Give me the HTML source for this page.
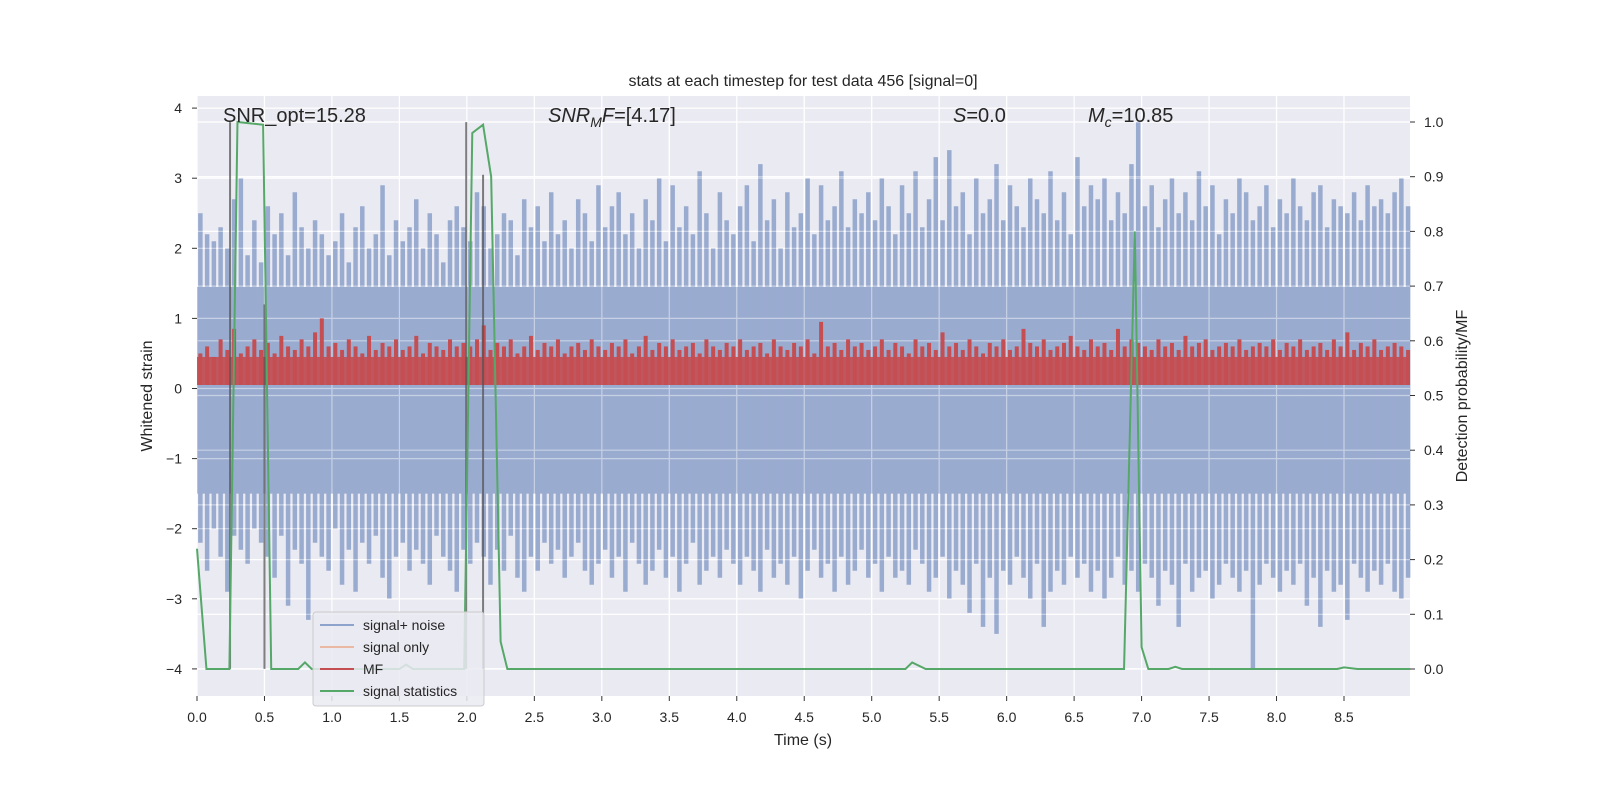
<!DOCTYPE html>
<html><head><meta charset="utf-8"><style>
body{margin:0;background:#fff;}
svg text{font-family:"Liberation Sans",sans-serif;fill:#262626;}
</style></head><body>
<svg id="c" width="1600" height="800" xmlns="http://www.w3.org/2000/svg">
<rect width="1600" height="800" fill="#fff"/>
<rect x="197" y="96" width="1213" height="600" fill="#eaeaf2"/>
<g id="grid"></g><g id="blue"></g><g id="grid2" opacity="0.45"></g><g id="red"></g><g id="vlines"></g><g id="green"></g><g id="ticks"></g>
<text x="803" y="86" font-size="16" text-anchor="middle">stats at each timestep for test data 456 [signal=0]</text>
<text x="223" y="122" font-size="20">SNR_opt=15.28</text>
<text x="548" y="122" font-size="20"><tspan font-style="italic">SNR</tspan><tspan font-style="italic" font-size="14" dy="5">M</tspan><tspan font-style="italic" dy="-5">F</tspan>=[4.17]</text>
<text x="953" y="122" font-size="20"><tspan font-style="italic">S</tspan>=0.0</text>
<text x="1088" y="122" font-size="20"><tspan font-style="italic">M</tspan><tspan font-style="italic" font-size="14" dy="5">c</tspan><tspan dy="-5">=10.85</tspan></text>
<text x="803" y="745" font-size="16" text-anchor="middle">Time (s)</text>
<text transform="translate(152,396) rotate(-90)" font-size="16" text-anchor="middle">Whitened strain</text>
<text transform="translate(1467,396) rotate(-90)" font-size="16" text-anchor="middle">Detection probability/MF</text>
<g>
<rect x="313" y="612" width="171" height="94" rx="3" fill="#eaeaf2" fill-opacity="0.85" stroke="#ccc"/>
<line x1="320" y1="625" x2="354" y2="625" stroke="#8ea3cb" stroke-width="2"/><text x="363" y="630" font-size="14">signal+ noise</text>
<line x1="320" y1="647" x2="354" y2="647" stroke="#ebb8a4" stroke-width="2"/><text x="363" y="652" font-size="14">signal only</text>
<line x1="320" y1="669" x2="354" y2="669" stroke="#c44e52" stroke-width="2"/><text x="363" y="674" font-size="14">MF</text>
<line x1="320" y1="691" x2="354" y2="691" stroke="#55a868" stroke-width="2"/><text x="363" y="696" font-size="14">signal statistics</text>
</g>
</svg>
<script>
const xTicks=[0,0.5,1,1.5,2,2.5,3,3.5,4,4.5,5,5.5,6,6.5,7,7.5,8,8.5];
const yTicks=[-4,-3,-2,-1,0,1,2,3,4];
const y2Ticks=[0,0.1,0.2,0.3,0.4,0.5,0.6,0.7,0.8,0.9,1.0];
const noiseHi=[2.5,2.2,2.1,2.3,2.0,2.7,3.0,1.9,2.4,1.8,2.6,2.2,2.5,1.9,2.8,2.3,2.0,2.4,2.2,1.9,
2.1,2.5,1.8,2.3,2.6,2.0,2.2,2.9,1.9,2.4,2.1,2.3,2.7,2.0,2.5,2.2,1.8,2.4,2.6,2.3,
2.1,2.8,2.6,2.0,2.2,2.5,2.4,1.9,2.7,2.3,2.6,2.1,2.8,2.2,2.4,2.0,2.7,2.5,2.1,2.9,
2.3,2.6,2.8,2.2,2.5,2.0,2.7,2.4,3.0,2.1,2.9,2.3,2.6,2.2,3.1,2.5,2.0,2.8,2.4,2.2,
2.6,2.9,2.1,3.2,2.4,2.7,2.0,2.8,2.3,2.5,3.0,2.2,2.9,2.4,2.6,3.1,2.3,2.7,2.5,2.8,
2.4,3.0,2.6,2.2,2.9,2.5,3.1,2.3,2.7,3.3,2.4,3.4,2.6,2.8,2.2,3.0,2.5,2.7,3.2,2.4,
2.9,2.6,2.3,3.0,2.7,2.5,3.1,2.4,2.8,2.2,3.3,2.6,2.9,2.7,3.0,2.4,2.8,2.5,3.2,3.8,
2.6,2.9,2.3,2.7,3.0,2.5,2.8,2.4,3.1,2.6,2.9,2.2,2.7,2.5,3.0,2.8,2.4,2.6,2.9,2.3,
2.7,2.5,3.0,2.6,2.4,2.8,2.9,2.3,2.7,2.6,2.5,2.8,2.4,2.9,2.6,2.7,2.5,2.8,3.0,2.6];
const noiseLo=[-2.2,-2.6,-2.0,-2.4,-2.9,-2.1,-2.3,-2.5,-2.0,-2.2,-2.4,-2.7,-2.1,-3.1,-2.3,-2.5,-3.3,-2.2,-2.4,-2.6,
-2.0,-2.8,-2.3,-2.9,-2.2,-2.5,-2.1,-2.7,-3.0,-2.4,-2.2,-2.6,-2.3,-2.5,-2.8,-2.1,-2.4,-2.6,-2.9,-2.3,
-2.5,-2.2,-2.4,-2.8,-2.3,-2.6,-2.1,-2.7,-2.9,-2.4,-2.6,-2.2,-2.5,-2.3,-2.7,-2.4,-2.2,-2.6,-2.8,-2.5,
-2.3,-2.7,-2.4,-2.9,-2.2,-2.5,-2.8,-2.6,-2.3,-2.7,-2.4,-2.9,-2.5,-2.2,-2.8,-2.6,-2.4,-2.7,-2.3,-2.5,
-2.8,-2.4,-2.6,-2.9,-2.3,-2.7,-2.5,-2.8,-2.4,-3.0,-2.6,-2.3,-2.7,-2.5,-2.9,-2.4,-2.8,-2.6,-2.3,-2.7,
-2.5,-2.9,-2.4,-2.7,-2.6,-2.8,-2.3,-2.5,-2.9,-2.7,-2.4,-3.0,-2.6,-2.8,-3.2,-2.5,-3.4,-2.7,-3.5,-2.6,
-2.8,-2.4,-2.7,-3.0,-2.5,-3.4,-2.9,-2.6,-2.8,-2.4,-2.7,-2.5,-2.9,-2.6,-3.0,-2.7,-2.4,-2.8,-2.6,-2.9,
-2.5,-2.7,-3.1,-2.6,-2.8,-3.4,-2.5,-2.9,-2.7,-2.6,-3.0,-2.8,-2.5,-2.7,-2.9,-2.6,-4.0,-2.8,-2.5,-2.7,
-2.9,-2.6,-2.8,-2.5,-3.1,-2.7,-3.4,-2.6,-2.9,-2.8,-3.3,-2.5,-2.7,-2.9,-2.6,-2.8,-2.5,-2.9,-3.0,-2.7];
const noiseCore=[1.45,-1.5];
const mfHi=[0.5,0.6,0.45,0.7,0.55,0.85,0.5,0.6,0.7,0.55,0.65,0.5,0.75,0.6,0.55,0.7,0.6,0.8,1.0,0.6,
0.65,0.55,0.7,0.6,0.5,0.75,0.55,0.65,0.6,0.7,0.55,0.6,0.75,0.5,0.65,0.6,0.55,0.7,0.6,0.65,
0.6,0.7,0.9,0.55,0.65,0.6,0.7,0.5,0.6,0.75,0.55,0.65,0.6,0.7,0.5,0.6,0.65,0.55,0.7,0.6,
0.55,0.65,0.6,0.7,0.5,0.6,0.75,0.55,0.65,0.6,0.7,0.55,0.6,0.65,0.5,0.7,0.6,0.55,0.65,0.6,
0.7,0.55,0.6,0.65,0.5,0.7,0.6,0.55,0.65,0.6,0.7,0.5,0.95,0.6,0.65,0.55,0.7,0.6,0.65,0.55,
0.6,0.7,0.55,0.65,0.6,0.5,0.7,0.6,0.65,0.55,0.8,0.6,0.65,0.55,0.7,0.6,0.5,0.65,0.6,0.7,
0.55,0.6,0.85,0.65,0.6,0.7,0.55,0.6,0.65,0.75,0.6,0.55,0.7,0.6,0.65,0.55,0.85,0.6,0.7,0.65,
0.6,0.55,0.7,0.6,0.65,0.55,0.75,0.6,0.65,0.7,0.55,0.6,0.65,0.6,0.7,0.55,0.6,0.65,0.6,0.7,
0.55,0.65,0.6,0.7,0.55,0.6,0.65,0.55,0.7,0.6,0.8,0.55,0.65,0.6,0.7,0.55,0.6,0.65,0.6,0.55];
const mfCore=[0.05,0.45];
const statT=[0,0.07,0.24,0.3,0.49,0.55,0.75,0.8,0.85,1.5,1.55,1.6,1.98,2.04,2.12,2.18,2.25,2.3,5.25,5.3,5.4,6.87,6.95,7.0,7.05,7.2,7.25,7.3,8.45,8.5,8.6,9.0];
const statV=[0.22,0,0,1.0,0.995,0,0,0.012,0,0,0.008,0,0,0.98,0.995,0.9,0.05,0,0,0.012,0,0,0.8,0.04,0,0,0.004,0,0,0.003,0,0];
const markT=[0.245,0.5,1.995,2.12];
const markTop=[3.8,1.2,3.8,3.05];

const NS='http://www.w3.org/2000/svg';
const X0=197,X1=1410,Y0=96,Y1=696;
const sx=t=>197+t*134.94;
const sy=v=>388.5-v*70.1;
const sy2=p=>669-p*547;
function mk(tag,attrs,parent){const e=document.createElementNS(NS,tag);for(const k in attrs)e.setAttribute(k,attrs[k]);document.getElementById(parent).appendChild(e);return e;}
['grid','grid2'].forEach(g=>{
 xTicks.forEach(t=>{const l=mk('line',{x1:sx(t),x2:sx(t),y1:Y0,y2:Y1,stroke:'#fff','stroke-width':1.2},g);
 
 });
 yTicks.forEach(v=>{const l=mk('line',{x1:X0,x2:X1,y1:sy(v),y2:sy(v),stroke:'#fff','stroke-width':1.2},g);
 
 });
 y2Ticks.forEach(v=>{const l=mk('line',{x1:X0,x2:X1,y1:sy2(v),y2:sy2(v),stroke:'#fff','stroke-width':1.2},g);
 
 });
});
const core=mk('rect',{x:X0,y:sy(noiseCore[0]),width:X1-X0,height:sy(noiseCore[1])-sy(noiseCore[0]),fill:'#9aabd0'},'blue');


const dt=9/noiseHi.length;
noiseHi.forEach((v,i)=>{const x=sx(i*dt+dt/2);
 const l=mk('line',{x1:x,x2:x,y1:sy(v),y2:sy(noiseLo[i]),stroke:'#9aabd0','stroke-width':4.5},'blue');
 
 });
const rc=mk('rect',{x:X0,y:sy(mfCore[1]),width:X1-X0,height:sy(mfCore[0])-sy(mfCore[1]),fill:'#c44e52',opacity:0.9},'red');


const dm=9/mfHi.length;
mfHi.forEach((v,i)=>{const x=sx(i*dm+dm/2);
 const l=mk('line',{x1:x,x2:x,y1:sy(v),y2:sy(mfCore[0]),stroke:'#c44e52','stroke-width':4},'red');
 
 });
markT.forEach((t,i)=>{const l=mk('line',{x1:sx(t),x2:sx(t),y1:sy(markTop[i]),y2:sy(-4),stroke:'#555','stroke-width':2,opacity:0.75},'vlines');
 
 });
const gp=mk('polyline',{points:statT.map((t,i)=>sx(Math.min(t,8.99))+','+sy2(statV[i])).join(' '),fill:'none',stroke:'#55a868','stroke-width':2},'green');


xTicks.forEach(t=>{const e=mk('text',{x:sx(t),y:722,'font-size':14,'text-anchor':'middle'},'ticks');e.textContent=t.toFixed(1);
 
 
 mk('line',{x1:sx(t),x2:sx(t),y1:Y1,y2:Y1+5,stroke:'#333'},'ticks');});
yTicks.forEach(v=>{const e=mk('text',{x:182,y:sy(v)+5,'font-size':14,'text-anchor':'end'},'ticks');e.textContent=(v<0?'\u2212':'')+Math.abs(v);
 
 
 mk('line',{x1:X0-5,x2:X0,y1:sy(v),y2:sy(v),stroke:'#333'},'ticks');});
y2Ticks.forEach(v=>{const e=mk('text',{x:1424,y:sy2(v)+5,'font-size':14},'ticks');e.textContent=v.toFixed(1);
 
 
 mk('line',{x1:X1,x2:X1+5,y1:sy2(v),y2:sy2(v),stroke:'#333'},'ticks');});
</script>
</body></html>
